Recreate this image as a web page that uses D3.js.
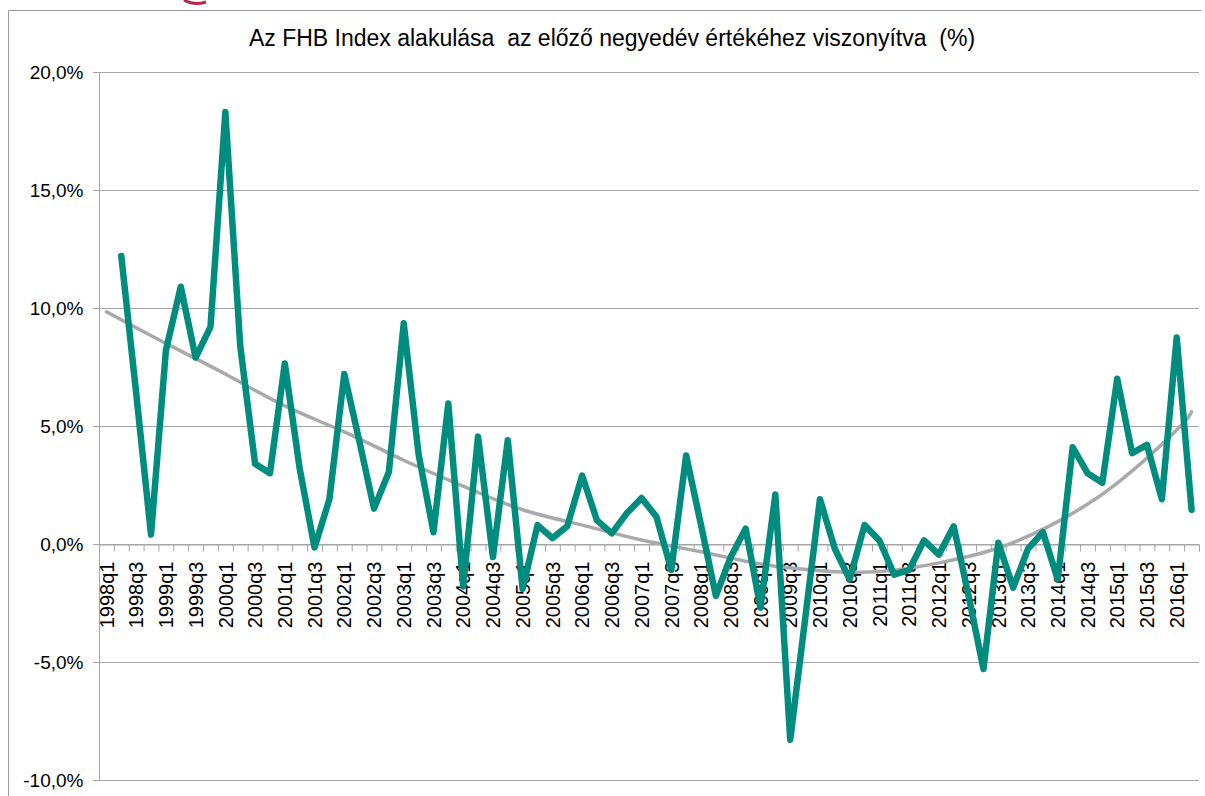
<!DOCTYPE html>
<html>
<head>
<meta charset="utf-8">
<script src="https://cdn.jsdelivr.net/npm/d3@7"></script>
<style>
  html, body { margin: 0; padding: 0; background: #fff; }
  svg { display: block; font-family: "Liberation Sans", Arial, sans-serif; }
</style>
</head>
<body>
<svg id="chart"></svg>
<script>
const quarters = [
  "1998q1","1998q2","1998q3","1998q4","1999q1","1999q2","1999q3","1999q4",
  "2000q1","2000q2","2000q3","2000q4","2001q1","2001q2","2001q3","2001q4",
  "2002q1","2002q2","2002q3","2002q4","2003q1","2003q2","2003q3","2003q4",
  "2004q1","2004q2","2004q3","2004q4","2005q1","2005q2","2005q3","2005q4",
  "2006q1","2006q2","2006q3","2006q4","2007q1","2007q2","2007q3","2007q4",
  "2008q1","2008q2","2008q3","2008q4","2009q1","2009q2","2009q3","2009q4",
  "2010q1","2010q2","2010q3","2010q4","2011q1","2011q2","2011q3","2011q4",
  "2012q1","2012q2","2012q3","2012q4","2013q1","2013q2","2013q3","2013q4",
  "2014q1","2014q2","2014q3","2014q4","2015q1","2015q2","2015q3","2015q4",
  "2016q1","2016q2"
];

// quarterly change of the FHB index, % (1998q1 has no value)
const fhbChange = [
  null, 12.2, 6.4, 0.4, 8.2, 10.9, 7.9, 9.2,
  18.3, 8.4, 3.4, 3.0, 7.65, 3.2, -0.15, 1.9,
  7.2, 4.4, 1.5, 3.05, 9.35, 3.8, 0.5, 5.95,
  -1.8, 4.55, -0.55, 4.4, -1.9, 0.8, 0.25, 0.75,
  2.9, 1.0, 0.45, 1.3, 1.95, 1.15, -1.1, 3.75,
  0.8, -2.2, -0.55, 0.65, -2.7, 2.1, -8.3, -3.2,
  1.9, -0.2, -1.5, 0.8, 0.15, -1.3, -1.1, 0.15,
  -0.45, 0.75, -2.2, -5.3, 0.05, -1.85, -0.2, 0.5,
  -1.5, 4.1, 3.0, 2.6, 7.0, 3.85, 4.2, 1.9,
  8.75, 1.45
];

// polynomial trend line
const trendQuarters = ["1998q1","1999q1","2000q1","2001q1","2002q1","2003q1","2004q1","2005q1",
  "2006q1","2007q1","2008q1","2009q1","2010q1","2011q1","2012q1","2013q1","2014q1","2015q1","2016q1","2016q2"];
const trendValues = [9.84, 8.5, 7.2, 5.85, 4.75, 3.55, 2.45, 1.45,
  0.8, 0.17, -0.33, -0.85, -1.13, -1.17, -0.8, -0.17, 0.95, 2.58, 4.83, 5.6];

const yTicks = [-10, -5, 0, 5, 10, 15, 20];
const labelQuarters = quarters.filter((q, i) => i % 2 === 0);

const svgWidth = 1205, svgHeight = 796;
const plot = { left: 99, right: 1199, top: 72, bottom: 780 };

const svg = d3.select("#chart")
  .attr("width", svgWidth)
  .attr("height", svgHeight);

// outer frame of the chart area
svg.append("path")
  .attr("d", "M8.5,796 V10.5 H1201")
  .attr("fill", "none")
  .attr("stroke", "#9a9a9a")
  .attr("stroke-width", 1);

// bit of the logo cut off at the top
svg.append("path")
  .attr("d", "M184,0 Q194,6 206,2")
  .attr("fill", "none")
  .attr("stroke", "#b8234a")
  .attr("stroke-width", 3);

svg.append("text")
  .attr("x", 612)
  .attr("y", 46)
  .attr("text-anchor", "middle")
  .attr("font-size", 23)
  .attr("fill", "#000")
  .style("white-space", "pre")
  .text("Az FHB Index alakulása  az előző negyedév értékéhez viszonyítva  (%)");

const x = d3.scaleBand()
  .domain(quarters)
  .range([plot.left, plot.right])
  .padding(0);

const xEdge = d3.scaleLinear()
  .domain([0, quarters.length])
  .range([plot.left, plot.right]);

const y = d3.scaleLinear()
  .domain([-10, 20])
  .range([plot.bottom, plot.top]);

const cx = q => x(q) + x.bandwidth() / 2;

// horizontal gridlines
svg.append("g")
  .selectAll("line")
  .data(yTicks)
  .join("line")
  .attr("x1", plot.left - 6)
  .attr("x2", plot.right)
  .attr("y1", d => Math.round(y(d)) + 0.5)
  .attr("y2", d => Math.round(y(d)) + 0.5)
  .attr("stroke", "#a6a6a6")
  .attr("stroke-width", 1);

// y axis
const yAxis = svg.append("g")
  .attr("transform", "translate(" + (plot.left + 0.5) + ",0)")
  .call(d3.axisLeft(y)
    .tickValues(yTicks)
    .tickSize(6)
    .tickPadding(10)
    .tickFormat(d => d3.format(".1f")(d).replace(".", ",").replace("−", "-") + "%"));
yAxis.select(".domain").attr("stroke", "#a6a6a6").attr("d", "M0," + plot.top + "V" + plot.bottom);
yAxis.selectAll(".tick line").attr("stroke", "#a6a6a6");
yAxis.selectAll("text")
  .attr("font-size", 19)
  .attr("font-family", "Liberation Sans, Arial, sans-serif")
  .attr("fill", "#000");

// x axis at 0 with tick marks between the quarters
const y0 = Math.round(y(0)) + 0.5;
const xAxis = svg.append("g")
  .attr("transform", "translate(0," + y0 + ")")
  .call(d3.axisBottom(xEdge)
    .tickValues(d3.range(quarters.length + 1))
    .tickSize(7)
    .tickFormat(""));
xAxis.select(".domain").attr("stroke", "#a6a6a6");
xAxis.selectAll(".tick line").attr("stroke", "#a6a6a6");

// rotated quarter labels
svg.append("g")
  .selectAll("text")
  .data(labelQuarters)
  .join("text")
  .attr("transform", d => "translate(" + cx(d) + "," + (y0 + 17) + ") rotate(-90)")
  .attr("text-anchor", "end")
  .attr("dy", "0.36em")
  .attr("font-size", 20)
  .attr("fill", "#000")
  .text(d => d);

// trend line
const trendLine = d3.line()
  .x(d => cx(d.q))
  .y(d => y(d.v))
  .curve(d3.curveNatural);

svg.append("path")
  .datum(trendQuarters.map((q, i) => ({ q: q, v: trendValues[i] })))
  .attr("fill", "none")
  .attr("stroke", "#a9a9a9")
  .attr("stroke-width", 3.5)
  .attr("stroke-linecap", "round")
  .attr("d", trendLine);

// data line
const line = d3.line()
  .defined(d => d.v != null)
  .x(d => cx(d.q))
  .y(d => y(d.v));

svg.append("path")
  .datum(quarters.map((q, i) => ({ q: q, v: fhbChange[i] })))
  .attr("fill", "none")
  .attr("stroke", "#008c7e")
  .attr("stroke-width", 6.5)
  .attr("stroke-linejoin", "round")
  .attr("stroke-linecap", "round")
  .attr("d", line);
</script>
</body>
</html>
